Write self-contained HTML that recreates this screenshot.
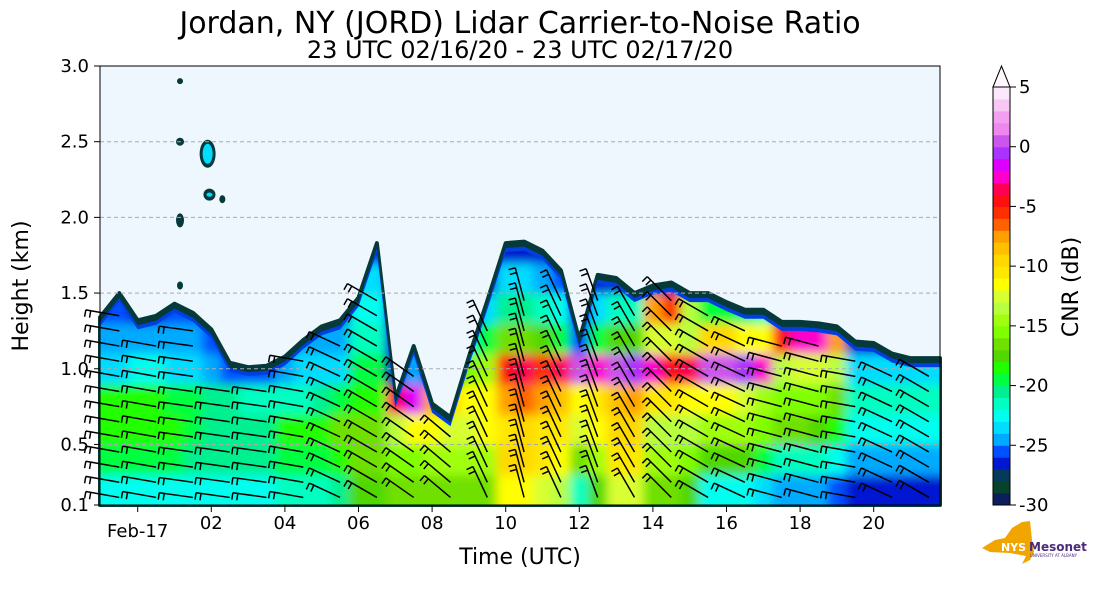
<!DOCTYPE html>
<html><head><meta charset="utf-8"><style>
html,body{margin:0;padding:0;background:#fff}
svg{display:block;font-family:"DejaVu Sans","Liberation Sans",sans-serif}
</style></head><body>
<svg id="chart" width="1093" height="600" viewBox="0 0 1093 600">
<defs>
<filter id="soft" x="-5%" y="-5%" width="110%" height="110%"><feGaussianBlur stdDeviation="5"/></filter>
<clipPath id="cloudclip"><polygon id="clipPoly" points="0,0"/></clipPath>
</defs>
<text x="520" y="33" font-size="30" text-anchor="middle">Jordan, NY (JORD) Lidar Carrier-to-Noise Ratio</text>
<text x="520" y="58" font-size="24" text-anchor="middle">23 UTC 02/16/20 - 23 UTC 02/17/20</text>
<rect x="100" y="66" width="840" height="439" fill="#eef6fe"/>
<g id="grid"></g>
<g id="field"></g>
<g id="cells" clip-path="url(#cloudclip)"><g id="cellsInner" filter="url(#soft)"></g></g>
<g id="gridover"></g>
<g id="barbs"></g>
<rect x="100" y="66" width="840" height="439" fill="none" stroke="#000" stroke-width="1"/>
<g id="axes"></g>
<text x="520" y="564" font-size="22" text-anchor="middle">Time (UTC)</text>
<text transform="translate(28,286) rotate(-90)" font-size="22" text-anchor="middle">Height (km)</text>
<g id="cbar"></g>
<text transform="translate(1078,287) rotate(-90)" font-size="22" text-anchor="middle">CNR (dB)</text>
<g>
<path d="M982 548 L995 540 L1005 538 L1012 528 L1022 522 L1030 521 L1032 540 L1034 552 L1030 560 L1022 564 L1026 556 L1010 553 L990 552 Z" fill="#f0a500"/>
<text x="1001" y="551" font-size="11" font-weight="bold" fill="#fff">NYS</text>
<text x="1029" y="551" font-size="12" font-weight="bold" fill="#4b2a7a">Mesonet</text>
<text x="1030" y="557" font-size="4" fill="#4b2a7a">UNIVERSITY AT ALBANY</text>
</g>
</svg>
<script>
// ---- data ----
const times = [-1,-0.5,0,0.5,1,1.5,2,2.5,3,3.5,4,4.5,5,5.5,6,6.5,7,7.5,8,8.5,9,9.5,10,10.5,11,11.5,12,12.5,13,13.5,14,14.5,15,15.5,16,16.5,17,17.5,18,18.5,19,19.5,20,20.5,21,21.5];
const topHeights = [1.34,1.5,1.32,1.35,1.43,1.37,1.26,1.04,1.01,1.02,1.08,1.19,1.28,1.32,1.47,1.83,0.8,1.15,0.77,0.68,1.08,1.45,1.83,1.84,1.78,1.65,1.19,1.62,1.6,1.5,1.55,1.57,1.5,1.5,1.44,1.39,1.39,1.31,1.31,1.3,1.28,1.18,1.17,1.1,1.07,1.07];
const rowHeights = [0.2,0.4,0.6,0.8,1.0,1.2,1.4,1.6,1.8];
const cnrRow02 = [-23,-23,-23,-23,-23,-23,-23,-23,-23,-23,-22,-22,-22,-21,-18,-18,-17,-17,-17,-17,-17,-17,-12,-12,-13,-14,-22,-18,-13,-13,-17,-17,-18,-23,-23,-23,-24,-25,-25,-25,-26,-27,-27,-27,-27,-27];
const cnrRow04 = [-20,-20,-20,-20,-20,-21,-21,-21,-21,-21,-20,-20,-20,-19,-17,-17,-16,-16,-15,-15,-15,-15,-10,-10,-11,-12,-17,-15,-11,-11,-15,-15,-16,-18,-18,-18,-20,-22,-22,-22,-23,-25,-25,-25,-25,-25];
const cnrRow06 = [-19,-19,-19,-19,-19,-20,-21,-21,-21,-21,-19,-19,-19,-17,-17,-17,-14,-12,-12,-13,-13,-12,-11,-10,-11,-11,-13,-12,-10,-10,-14,-14,-14,-15,-15,-15,-16,-17,-17,-18,-19,-23,-23,-23,-23,-23];
const cnrRow08 = [-19,-19,-19,-19,-20,-20,-21,-21,-22,-22,-22,-22,-21,-20,-19,-19,-4,-2,-8,-10,-12,-12,-8,-7,-8,-9,-12,-11,-9,-8,-11,-11,-12,-12,-12,-13,-15,-16,-16,-16,-17,-22,-22,-22,-22,-22];
const cnrRow10 = [-24,-24,-23,-23,-24,-24,-25,-26,-26,-26,-25,-24,-24,-24,-20,-20,-26,-25,-26,-26,-16,-15,-5,-4,-6,-4,0,-3,0,-1,-3,-5,-4,0,0,-1,-3,-14,-13,-13,-14,-24,-24,-24,-24,-24];
const cnrRow12 = [-25,-25,-25,-25,-25,-25,-26,-27,-27,-27,-27,-25,-25,-25,-22,-22,-28,-26,-28,-28,-22,-20,-17,-17,-18,-20,-26,-20,-18,-18,-13,-13,-14,-10,-10,-12,-12,-5,-3,-3,-8,-27,-27,-27,-27,-27];
const cnrRow14 = [-26,-26,-27,-27,-26,-26,-27,-27,-27,-27,-27,-27,-27,-27,-23,-23,-28,-28,-28,-28,-25,-24,-21,-21,-22,-23,-27,-24,-22,-22,-8,-6,-14,-20,-20,-21,-22,-27,-27,-27,-27,-27,-27,-27,-27,-27];
const cnrRow16 = [-28,-28,-28,-28,-28,-28,-28,-28,-28,-28,-28,-28,-28,-28,-24,-24,-28,-28,-28,-28,-28,-27,-24,-24,-25,-26,-28,-27,-27,-27,-27,-27,-27,-27,-27,-27,-27,-28,-28,-28,-28,-28,-28,-28,-28,-28];
const cnrRow18 = [-28,-28,-28,-28,-28,-28,-28,-28,-28,-28,-28,-28,-28,-28,-27,-27,-28,-28,-28,-28,-28,-28,-27,-27,-27,-27,-28,-28,-28,-28,-28,-28,-28,-28,-28,-28,-28,-28,-28,-28,-28,-28,-28,-28,-28,-28];
const yTicks = [0.1,0.5,1.0,1.5,2.0,2.5,3.0];
const yTickLabels = ["0.1","0.5","1.0","1.5","2.0","2.5","3.0"];
const xTicks = [0,2,4,6,8,10,12,14,16,18,20];
const xTickLabels = ["Feb-17","02","04","06","08","10","12","14","16","18","20"];
const cbarTicks = [5,0,-5,-10,-15,-20,-25,-30];
const barbTimes = [-0.5,0.5,1.5,2.5,3.5,4.5,5.5,6.5,7.5,8.5,9.5,10.5,11.5,12.5,13.5,14.5,15.5,16.5,17.5,18.5,19.5,20.5,21.5];
const barbDirs = [10,10,8,8,8,10,25,30,35,40,65,75,65,70,60,45,30,25,15,15,10,25,30];
const colors = ["#0a1f5c","#05432a","#063a5a","#0018d0","#0050ff","#00aaff","#00ddff","#00ffee","#00ffc0","#00f090","#00ff40","#20ff00","#50d800","#70e000","#80ff00","#a0ff10","#b8ff40","#d8ff30","#ffff00","#ffe800","#ffd800","#ffc000","#ffa000","#ff6000","#ff3000","#ff1010","#ff0055","#ff00cc","#dd00ff","#aa33ff","#cc55ee","#ee88ee","#f0a0ee","#f8c8f4","#fce8fc"];
// ---- axes ----
const NS="http://www.w3.org/2000/svg";
const X0=137.7, XS=36.8;
const xs = t => X0 + XS*t;
const ys = h => 505 - (h-0.1)*(439/2.9);
const col = v => colors[Math.max(0,Math.min(colors.length-1,Math.floor(v+30)))];
function mk(tag, attrs, parent){const e=document.createElementNS(NS,tag);for(const k in attrs)e.setAttribute(k,attrs[k]);parent.appendChild(e);return e;}
const grid=document.getElementById('grid'), field=document.getElementById('field'), cells=document.getElementById('cellsInner'), gridover=document.getElementById('gridover'), barbs=document.getElementById('barbs'), axes=document.getElementById('axes'), cbar=document.getElementById('cbar');
yTicks.forEach((h,i)=>{
  if(h>0.1 && h<3.0){const g=mk('line',{x1:100,x2:940,y1:ys(h),y2:ys(h),stroke:'#aaa','stroke-dasharray':'4,3','stroke-width':1},gridover);
  
  }
  const t=mk('line',{x1:94,x2:100,y1:ys(h),y2:ys(h),stroke:'#000'},axes);
  
  
  const l=mk('text',{x:89,y:ys(h)+6,'font-size':18,'text-anchor':'end'},axes);l.textContent=yTickLabels[i];
  
  
});
xTicks.forEach((t,i)=>{
  const tk=mk('line',{x1:xs(t),x2:xs(t),y1:505,y2:512,stroke:'#000'},axes);
  
  
  const l=mk('text',{x:xs(t),y:i===0?537:529,'font-size':18,'text-anchor':'middle'},axes);l.textContent=xTickLabels[i];
  
  
});
// ---- field ----
const rows=[cnrRow02,cnrRow04,cnrRow06,cnrRow08,cnrRow10,cnrRow12,cnrRow14,cnrRow16,cnrRow18];
const cw=XS*0.5;
let pts=[];
times.forEach((t,i)=>{pts.push([xs(t),ys(topHeights[i])]);});
pts[0][0]=100; pts[pts.length-1][0]=940;
const ptStr=(dy)=>'100,505 '+pts.map(p=>p[0]+','+(p[1]+dy)).join(' ')+' 940,505';
const outer=mk('polygon',{points:ptStr(0),fill:'#063a3a',stroke:'#063a3a','stroke-width':4,'stroke-linejoin':'round'},field);


const inner=mk('polygon',{points:ptStr(5),fill:'#0040e0'},field);


document.getElementById('clipPoly').setAttribute('points',ptStr(9));
times.forEach((t,i)=>{
  rows.forEach((r,j)=>{
    const b=rowHeights[j]-0.1, tp=rowHeights[j]+0.1;
    if(b>topHeights[i]+0.05) return;
    const x=xs(t)-cw/2-(i===0?20:0), x2=xs(t)+cw/2+(i===times.length-1?20:0);
    const c=mk('rect',{x:x,y:ys(tp),width:x2-x+0.5,height:ys(b)-ys(tp)+(j===0?20:0.5),fill:col(r[i])},cells);
    
    
  });
});
// isolated high blobs
[[1.15,2.9,3,3],[1.15,2.5,4,4],[1.15,1.98,4,7],[1.15,1.55,3,4],[1.9,2.42,8,14],[1.95,2.15,6,6],[2.3,2.12,3,4]].forEach(b=>{
  const e=mk('ellipse',{cx:xs(b[0]),cy:ys(b[1]),rx:b[2],ry:b[3],fill:'#063a3a'},field);
  
  
  if(b[2]>5){const e2=mk('ellipse',{cx:xs(b[0]),cy:ys(b[1]),rx:b[2]-3,ry:b[3]-4,fill:'#00ddff'},field);
  
  }
});
// ---- wind barbs ----
barbTimes.forEach((t,i)=>{
  const ti=times.indexOf(t);
  const topH = ti>=0?topHeights[ti]:1.0;
  for(let h=0.15; h<Math.min(topH-0.1,1.5); h+=0.1){
    const a=barbDirs[i]*Math.PI/180, L=34;
    const x=xs(t), y=ys(h);
    const x2=x-L*Math.cos(a), y2=y-L*Math.sin(a);
    const ln=mk('path',{d:`M${x},${y} L${x2},${y2} M${x2},${y2} l${-7*Math.sin(a)},${7*Math.cos(a)} M${x2+5*Math.cos(a)},${y2+5*Math.sin(a)} l${-7*Math.sin(a)},${7*Math.cos(a)}`,stroke:'#000','stroke-width':1.5,fill:'none'},barbs);
    
    
  }
});
// ---- colorbar ----
const cy=v=>87+(5-v)*(418/35);
colors.forEach((c,i)=>{
  const v=-30+i;
  const r=mk('rect',{x:993,y:cy(v+1),width:17,height:cy(v)-cy(v+1)+0.5,fill:c},cbar);
  
  
});
const tri=mk('polygon',{points:'993,87 1001.5,66 1010,87',fill:'#fff8ff',stroke:'#000','stroke-width':1},cbar);


const fr=mk('rect',{x:993,y:87,width:17,height:418,fill:'none',stroke:'#000','stroke-width':1},cbar);


cbarTicks.forEach(v=>{
  const t=mk('line',{x1:1010,x2:1016,y1:cy(v),y2:cy(v),stroke:'#000'},cbar);
  
  
  const l=mk('text',{x:1019,y:cy(v)+6,'font-size':18},cbar);l.textContent=String(v);
  
  
});
</script>
</body></html>
